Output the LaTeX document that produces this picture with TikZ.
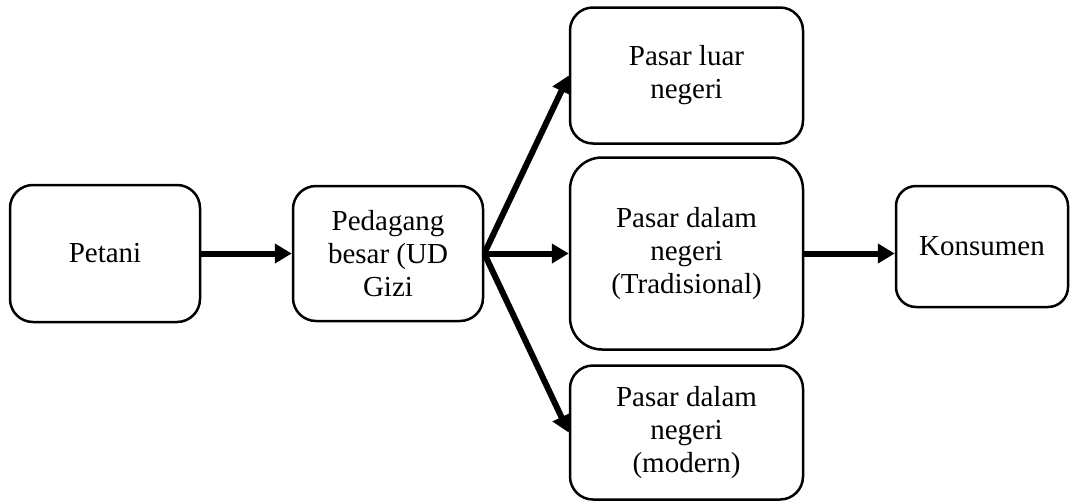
\documentclass[tikz,border=0pt]{standalone}
\usepackage{fontspec}
\setmainfont{Liberation Serif}
\usetikzlibrary{arrows.meta,positioning}

\begin{document}
\begin{tikzpicture}[on grid,>={Triangle[length=17pt,width=19pt]},
  every node/.style={font=\fontsize{29}{33}\selectfont,align=center},
  box/.style={draw,line width=2.5pt,rounded corners=#1,inner sep=0pt},
  box/.default=23pt,
  flow/.style={line width=6pt}]
\useasboundingbox (0,0) rectangle (1070pt,-501pt);

\node[box,minimum width=190pt,minimum height=137pt] (petani) at (105pt,-253.5pt) {Petani};
\node[box,minimum width=190pt,minimum height=135pt] (pedagang) [right=283pt of petani] {Pedagang\\besar (UD\\Gizi};
\node[box=32pt,minimum width=233pt,minimum height=192pt] (tradisional) [right=298.5pt of pedagang] {Pasar dalam\\negeri\\(Tradisional)};
\node[box,minimum width=233pt,minimum height=136pt] (luar) [above=178pt of tradisional] {Pasar luar\\negeri};
\node[box,minimum width=233pt,minimum height=134pt] (modern) [below=179pt of tradisional] {Pasar dalam\\negeri\\(modern)};
\node[box=20pt,minimum width=172pt,minimum height=121pt] (konsumen) [right=295.5pt of tradisional,yshift=7pt] {Konsumen};

\path[->,flow] (petani) edge (pedagang)
          (pedagang.east) edge (luar.west)
          (pedagang.east) edge (tradisional.west)
          (pedagang.east) edge (modern.west)
          (tradisional.east) edge (tradisional.east -| konsumen.west);
\end{tikzpicture}
\end{document}
